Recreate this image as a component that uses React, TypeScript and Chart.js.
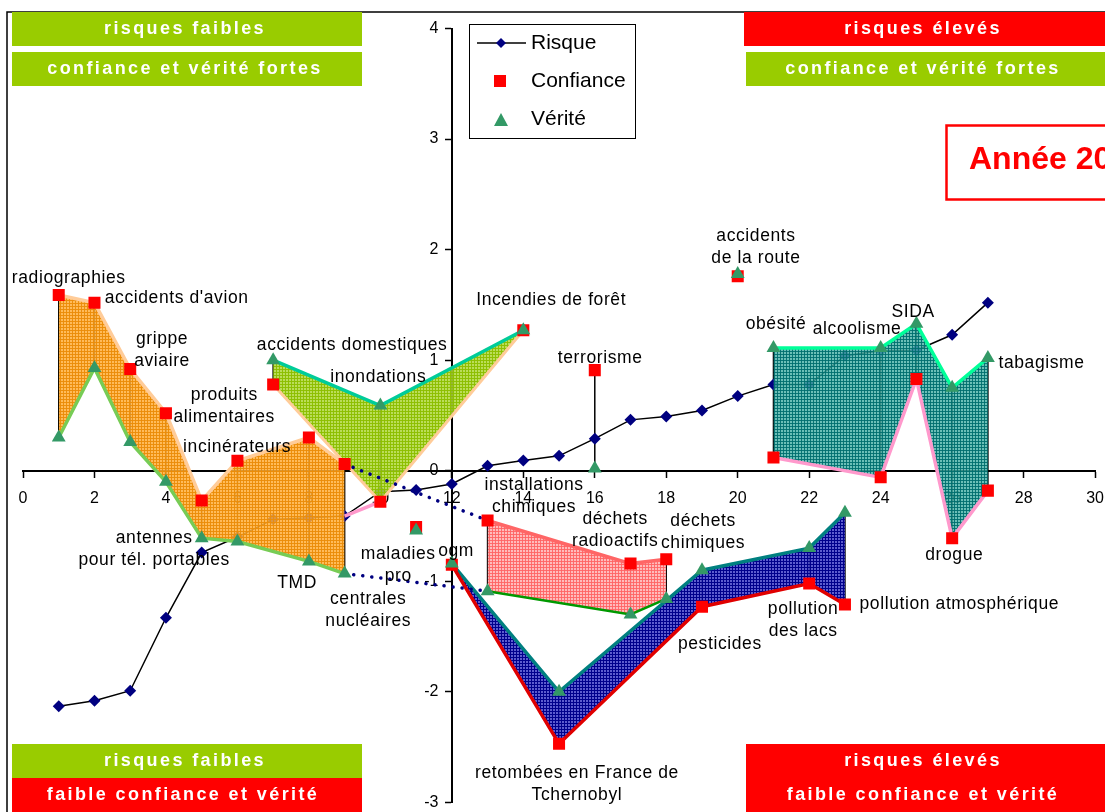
import React, { useEffect, useRef } from 'react';
import { Chart, registerables } from 'chart.js';

Chart.register(...registerables);

// ---------- data ----------
const RANKS = [1, 2, 3, 4, 5, 6, 7, 8, 9, 10, 11, 12, 13, 14, 15, 16, 17, 18, 19, 20, 21, 22, 23, 24, 25, 26, 27];
const ITEMS = [
  'radiographies', "accidents d'avion", 'grippe aviaire', 'produits alimentaires',
  'antennes pour tél. portables', 'incinérateurs', 'accidents domestiques', 'TMD',
  'centrales nucléaires', 'inondations', 'maladies pro', 'ogm', 'installations chimiques',
  'Incendies de forêt', 'retombées en France de Tchernobyl', 'terrorisme', 'déchets radioactifs',
  'déchets chimiques', 'pesticides', 'accidents de la route', 'obésité', 'pollution des lacs',
  'pollution atmosphérique', 'alcoolisme', 'SIDA', 'drogue', 'tabagisme',
];
const RISQUE = [-2.13, -2.08, -1.99, -1.33, -0.74, -0.6, -0.44, -0.425, -0.41, -0.19, -0.175, -0.12, 0.045, 0.093, 0.135, 0.29, 0.46, 0.49, 0.545, 0.675, 0.78, 0.78, 1.04, 1.085, 1.09, 1.23, 1.52];
const CONFIANCE = [1.59, 1.52, 0.92, 0.52, -0.27, 0.09, 0.78, 0.3, 0.06, -0.28, -0.51, -0.85, -0.45, 1.27, -2.47, 0.91, -0.84, -0.8, -1.23, 1.76, 0.12, -1.02, -1.21, -0.06, 0.83, -0.61, -0.18];
const VERITE = [0.3, 0.93, 0.26, -0.1, -0.61, -0.64, 1.0, -0.82, -0.93, 0.59, -0.54, -0.84, -1.09, 1.27, -2.0, 0.02, -1.3, -1.16, -0.9, 1.78, 1.11, -0.7, -0.38, 1.11, 1.33, 0.75, 1.02];

// groups of items (ranks) whose confidence / truth bands are shaded
const GROUP_ORANGE = [1, 2, 3, 4, 5, 6, 8, 9];
const GROUP_LIME = [7, 10, 14];
const GROUP_ROSE = [13, 17, 18];
const GROUP_NAVY = [12, 15, 19, 22, 23];
const GROUP_TEAL = [21, 24, 25, 26, 27];

const X_TICKS = [0, 2, 4, 6, 8, 10, 12, 14, 16, 18, 20, 22, 24, 26, 28, 30];
const Y_TICKS = [-3, -2, -1, 0, 1, 2, 3, 4];

// text annotations (lines, anchor in data units)
const LABELS: { lines: string[]; x: number; y: number }[] = [
  { lines: ['radiographies'], x: 1.28, y: 1.74 },
  { lines: ["accidents d'avion"], x: 4.3, y: 1.56 },
  { lines: ['grippe', 'aviaire'], x: 3.89, y: 1.09 },
  { lines: ['produits', 'alimentaires'], x: 5.63, y: 0.583 },
  { lines: ['incinérateurs'], x: 5.99, y: 0.217 },
  { lines: ['antennes', 'pour tél. portables'], x: 3.67, y: -0.714 },
  { lines: ['TMD'], x: 7.67, y: -1.02 },
  { lines: ['centrales', 'nucléaires'], x: 9.66, y: -1.257 },
  { lines: ['accidents domestiques'], x: 9.21, y: 1.14 },
  { lines: ['inondations'], x: 9.94, y: 0.85 },
  { lines: ['Incendies de forêt'], x: 14.78, y: 1.54 },
  { lines: ['terrorisme'], x: 16.15, y: 1.02 },
  { lines: ['installations', 'chimiques'], x: 14.3, y: -0.226 },
  { lines: ['déchets', 'radioactifs'], x: 16.57, y: -0.538 },
  { lines: ['déchets', 'chimiques'], x: 19.03, y: -0.552 },
  { lines: ['maladies', 'pro'], x: 10.5, y: -0.85 },
  { lines: ['ogm'], x: 12.12, y: -0.73 },
  { lines: ['accidents', 'de la route'], x: 20.51, y: 2.026 },
  { lines: ['obésité'], x: 21.07, y: 1.33 },
  { lines: ['alcoolisme'], x: 23.34, y: 1.284 },
  { lines: ['SIDA'], x: 24.91, y: 1.43 },
  { lines: ['tabagisme'], x: 28.5, y: 0.977 },
  { lines: ['drogue'], x: 26.06, y: -0.76 },
  { lines: ['pollution atmosphérique'], x: 26.2, y: -1.21 },
  { lines: ['pollution', 'des lacs'], x: 21.83, y: -1.348 },
  { lines: ['pesticides'], x: 19.5, y: -1.565 },
  { lines: ['retombées en France de', 'Tchernobyl'], x: 15.5, y: -2.835 },
];

const FONT = '"Liberation Sans", Arial, Helvetica, sans-serif';
const GREEN = '#99CC00';
const RED = '#FF0000';
const CANVAS_W = 1116;
const CANVAS_H = 818;

const pts = (group: number[], vals: number[]) => group.map((r) => ({ x: r, y: vals[RANKS.indexOf(r)] }));

function makePattern(base: string, line: string): CanvasPattern | string {
  const c = document.createElement('canvas');
  c.width = 3;
  c.height = 3;
  const g = c.getContext('2d');
  if (!g) return base;
  g.fillStyle = base;
  g.fillRect(0, 0, 3, 3);
  g.fillStyle = line;
  g.fillRect(0, 0, 3, 1);
  g.fillRect(0, 0, 1, 3);
  const ctx = document.createElement('canvas').getContext('2d');
  return (ctx && ctx.createPattern(c, 'repeat')) || base;
}

const hiLoPlugin = {
  id: 'hiLo',
  beforeDatasetsDraw(chart: any) {
    const { ctx, scales } = chart;
    const xs = scales.x;
    const ys = scales.y;
    ctx.save();
    ctx.strokeStyle = '#000';
    ctx.lineWidth = 1.5;
    RANKS.forEach((r, i) => {
      const px = xs.getPixelForValue(r);
      ctx.beginPath();
      ctx.moveTo(px, ys.getPixelForValue(CONFIANCE[i]));
      ctx.lineTo(px, ys.getPixelForValue(VERITE[i]));
      ctx.stroke();
    });
    ctx.restore();
  },
};

function banner(ctx: CanvasRenderingContext2D, x: number, y: number, w: number, h: number, color: string) {
  ctx.fillStyle = color;
  ctx.fillRect(x, y, w, h);
}
function bannerText(ctx: CanvasRenderingContext2D, text: string, cx: number, cy: number) {
  ctx.save();
  ctx.fillStyle = '#fff';
  ctx.font = `bold 18px ${FONT}`;
  (ctx as any).letterSpacing = '2.4px';
  ctx.textAlign = 'center';
  ctx.textBaseline = 'middle';
  ctx.fillText(text, cx + 1, cy);
  ctx.restore();
}

const decorPlugin = {
  id: 'decor',
  beforeDraw(chart: any) {
    const ctx: CanvasRenderingContext2D = chart.ctx;
    ctx.save();
    ctx.fillStyle = '#fff';
    ctx.fillRect(0, 0, chart.width, chart.height);
    ctx.strokeStyle = '#000';
    ctx.lineWidth = 1.5;
    ctx.beginPath();
    ctx.moveTo(7, CANVAS_H);
    ctx.lineTo(7, 12);
    ctx.lineTo(CANVAS_W, 12);
    ctx.stroke();
    ctx.restore();
  },
  afterDraw(chart: any) {
    const ctx: CanvasRenderingContext2D = chart.ctx;
    const xs = chart.scales.x;
    const ys = chart.scales.y;
    ctx.save();
    // data labels
    ctx.fillStyle = '#000';
    ctx.font = `17.5px ${FONT}`;
    (ctx as any).letterSpacing = '0.6px';
    ctx.textAlign = 'center';
    ctx.textBaseline = 'middle';
    LABELS.forEach((l) => {
      const cx = xs.getPixelForValue(l.x);
      const cy = ys.getPixelForValue(l.y);
      const lh = 22;
      const top = cy - ((l.lines.length - 1) * lh) / 2;
      l.lines.forEach((t, k) => ctx.fillText(t, cx, top + k * lh));
    });
    (ctx as any).letterSpacing = '0px';

    // quadrant banners
    banner(ctx, 12, 12, 350, 34, GREEN);
    banner(ctx, 12, 52, 350, 34, GREEN);
    bannerText(ctx, 'risques faibles', 184, 29);
    bannerText(ctx, 'confiance et vérité fortes', 184, 69);

    banner(ctx, 744, 12, 361, 34, RED);
    banner(ctx, 746, 52, 359, 34, GREEN);
    bannerText(ctx, 'risques élevés', 922, 29);
    bannerText(ctx, 'confiance et vérité fortes', 922, 69);

    banner(ctx, 12, 744, 350, 34, GREEN);
    banner(ctx, 12, 778, 350, 34, RED);
    bannerText(ctx, 'risques faibles', 184, 761);
    bannerText(ctx, 'faible confiance et vérité', 182, 795);

    banner(ctx, 746, 744, 359, 68, RED);
    bannerText(ctx, 'risques élevés', 922, 761);
    bannerText(ctx, 'faible confiance et vérité', 922, 795);

    // year box
    ctx.fillStyle = '#fff';
    ctx.fillRect(946, 125, 170, 75);
    ctx.strokeStyle = RED;
    ctx.lineWidth = 2.5;
    ctx.strokeRect(946.5, 125.5, 170, 74);
    ctx.fillStyle = RED;
    ctx.font = `bold 32px ${FONT}`;
    ctx.textAlign = 'left';
    ctx.textBaseline = 'middle';
    ctx.fillText('Année 20', 969, 160);

    // legend
    ctx.fillStyle = '#fff';
    ctx.fillRect(469, 24, 166, 114);
    ctx.strokeStyle = '#000';
    ctx.lineWidth = 1;
    ctx.strokeRect(469.5, 24.5, 166, 114);
    ctx.strokeStyle = '#000';
    ctx.lineWidth = 1.5;
    ctx.beginPath();
    ctx.moveTo(477, 43);
    ctx.lineTo(526, 43);
    ctx.stroke();
    ctx.fillStyle = '#000080';
    ctx.beginPath();
    ctx.moveTo(501, 38);
    ctx.lineTo(506, 43);
    ctx.lineTo(501, 48);
    ctx.lineTo(496, 43);
    ctx.closePath();
    ctx.fill();
    ctx.fillStyle = RED;
    ctx.fillRect(494, 75, 12, 12);
    ctx.fillStyle = '#339966';
    ctx.beginPath();
    ctx.moveTo(501, 113);
    ctx.lineTo(508, 126);
    ctx.lineTo(494, 126);
    ctx.closePath();
    ctx.fill();
    ctx.fillStyle = '#000';
    ctx.font = `21px ${FONT}`;
    ctx.textAlign = 'left';
    ctx.textBaseline = 'middle';
    ctx.fillText('Risque', 531, 43);
    ctx.fillText('Confiance', 531, 81);
    ctx.fillText('Vérité', 531, 119);
    ctx.restore();
  },
};

export default function App() {
  const ref = useRef<HTMLCanvasElement | null>(null);

  useEffect(() => {
    if (!ref.current) return;
    const orange = makePattern('rgba(255,175,60,0.85)', 'rgba(235,140,10,0.95)');
    const lime = makePattern('rgba(175,215,60,0.85)', 'rgba(140,190,0,0.95)');
    const rose = makePattern('rgba(255,175,175,0.85)', 'rgba(255,100,100,0.9)');
    const navy = makePattern('rgba(70,70,200,0.88)', 'rgba(0,0,140,1)');
    const teal = makePattern('rgba(70,175,165,0.8)', 'rgba(0,110,110,0.9)');

    const band = (
      group: number[], upper: number[], lower: number[], bg: any,
      upColor: string, lowColor: string, upW: number, lowW: number,
    ) => [
      {
        data: pts(group, upper), fill: '+1', backgroundColor: bg, borderColor: upColor,
        borderWidth: upW, pointRadius: 0, order: 11, tension: 0,
      },
      {
        data: pts(group, lower), fill: false, borderColor: lowColor,
        borderWidth: lowW, pointRadius: 0, order: 10, tension: 0,
      },
    ];

    const datasets: any[] = [
      {
        label: 'Vérité', data: RANKS.map((r, i) => ({ x: r, y: VERITE[i] })), showLine: false,
        pointStyle: 'triangle', pointRadius: 8, pointBackgroundColor: '#339966',
        pointBorderColor: '#339966', pointBorderWidth: 0, order: 0,
      },
      {
        label: 'Confiance', data: RANKS.map((r, i) => ({ x: r, y: CONFIANCE[i] })), showLine: false,
        pointStyle: 'rect', pointRadius: 8.5, pointBackgroundColor: RED,
        pointBorderColor: RED, pointBorderWidth: 0, order: 1,
      },
      {
        label: 'Risque', data: RANKS.map((r, i) => ({ x: r, y: RISQUE[i] })), borderColor: '#000',
        borderWidth: 1.5, pointStyle: 'rectRot', pointRadius: 6, pointBackgroundColor: '#000080',
        pointBorderColor: '#000080', pointBorderWidth: 0, order: 30, fill: false, tension: 0,
      },
      ...band(GROUP_ORANGE, CONFIANCE, VERITE, orange, '#FFCC99', '#77CC55', 3.5, 3.5),
      ...band(GROUP_LIME, VERITE, CONFIANCE, lime, '#00CC99', '#FFCC99', 3.5, 3),
      ...band(GROUP_ROSE, CONFIANCE, VERITE, rose, '#FF6666', '#009900', 3.5, 2.5),
      ...band(GROUP_NAVY, VERITE, CONFIANCE, navy, '#008080', '#E00000', 3.5, 3.5),
      ...band(GROUP_TEAL, VERITE, CONFIANCE, teal, '#00FF99', '#FF99CC', 3.5, 3.5),
      {
        data: [{ x: 9, y: CONFIANCE[8] }, { x: 13, y: CONFIANCE[12] }], borderColor: '#000080',
        borderWidth: 3.5, borderDash: [0.1, 9], borderCapStyle: 'round', pointRadius: 0, order: 5, fill: false,
      },
      {
        data: [{ x: 9, y: VERITE[8] }, { x: 13, y: VERITE[12] }], borderColor: '#000080',
        borderWidth: 3.5, borderDash: [0.1, 9], borderCapStyle: 'round', pointRadius: 0, order: 5, fill: false,
      },
      {
        data: [{ x: 9, y: RISQUE[8] }, { x: 10, y: CONFIANCE[9] }], borderColor: '#FF99CC',
        borderWidth: 3.5, pointRadius: 0, order: 5, fill: false,
      },
    ];

    const chart = new Chart(ref.current, {
      type: 'line',
      data: { datasets },
      options: {
        animation: false,
        responsive: false,
        devicePixelRatio: 1,
        events: [],
        layout: { padding: { left: 23, right: 0, top: 28.5, bottom: 0 } },
        plugins: {
          legend: { display: false },
          tooltip: { enabled: false },
        },
        scales: {
          x: {
            type: 'linear', min: 0, max: 30, position: { y: 0 } as any,
            afterBuildTicks: (s: any) => { s.ticks = X_TICKS.map((v) => ({ value: v })); },
            ticks: { color: '#000', font: { family: FONT, size: 16 }, padding: 12, maxRotation: 0 },
            grid: { drawOnChartArea: false, drawTicks: true, tickLength: 6, color: '#000', tickColor: '#000', tickWidth: 1.5 },
            border: { display: true, color: '#000', width: 2 },
          },
          y: {
            type: 'linear', min: -3, max: 4, position: { x: 12 } as any,
            afterBuildTicks: (s: any) => { s.ticks = Y_TICKS.map((v) => ({ value: v })); },
            ticks: {
              color: '#000', font: { family: FONT, size: 16 }, padding: 6,
              callback: (v: any) => `${v}   `,
            },
            grid: { drawOnChartArea: false, drawTicks: true, tickLength: 6, color: '#000', tickColor: '#000', tickWidth: 1.5 },
            border: { display: true, color: '#000', width: 2 },
          },
        },
      } as any,
      plugins: [hiLoPlugin, decorPlugin],
    });
    return () => chart.destroy();
  }, []);

  return (
    <div style={{ position: 'fixed', left: 0, top: 0, width: 1105, height: 812, overflow: 'hidden' }}>
      <canvas
        ref={ref}
        width={CANVAS_W}
        height={CANVAS_H}
        style={{ display: 'block', width: CANVAS_W, height: CANVAS_H }}
      />
    </div>
  );
}
